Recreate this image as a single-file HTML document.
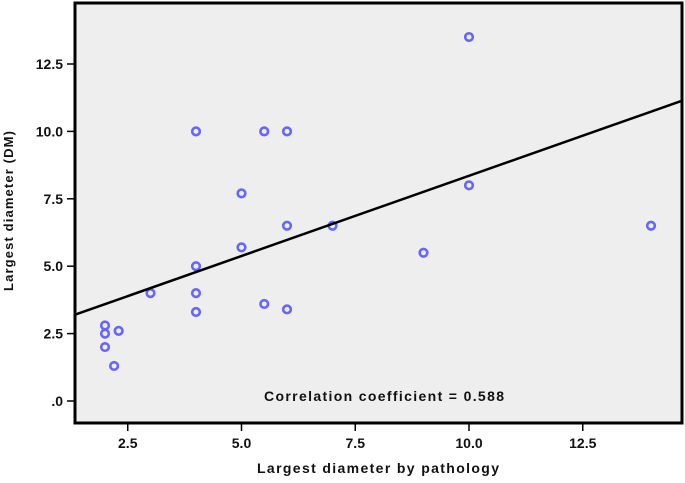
<!DOCTYPE html>
<html><head><meta charset="utf-8"><style>
body{margin:0;background:#fff;}
svg text{font-family:"Liberation Sans",Arial,sans-serif;font-weight:bold;fill:#111;}
</style></head><body>
<svg width="685" height="478">
<rect x="75" y="3" width="607" height="420" fill="#eeeeee" stroke="#000" stroke-width="3"/>
<g id="ticks"></g>
<g id="pts"></g>
<line id="fit" stroke="#000" stroke-width="2.5"/>
<text x="384" y="401" text-anchor="middle" font-size="14" textLength="240" lengthAdjust="spacing">Correlation coefficient = 0.588</text>
<text x="378" y="473" text-anchor="middle" font-size="14" textLength="242" lengthAdjust="spacing">Largest diameter by pathology</text>
<text transform="translate(13,211) rotate(-90)" text-anchor="middle" font-size="13" textLength="160" lengthAdjust="spacing">Largest diameter (DM)</text>
</svg>
<script>
const xs=[2,2,2,2.3,2.2,3,4,4,4,4,5,5,5.5,5.5,6,6,6,7,9,10,10,14];
const ys=[2.8,2.5,2.0,2.6,1.3,4,10,5,4,3.3,7.7,5.7,10,3.6,10,6.5,3.4,6.5,5.5,13.5,8,6.5];
const xTicks=[2.5,5.0,7.5,10.0,12.5];
const yTicks=[0,2.5,5.0,7.5,10.0,12.5];
const yTickLabels=[".0","2.5","5.0","7.5","10.0","12.5"];
const fitX=[1.34,14.7];
const fitY=[3.2,11.15];
const X=v=>14+v*45.5, Y=v=>401-v*26.96;
const NS="http://www.w3.org/2000/svg";
const tg=document.getElementById('ticks'), pg=document.getElementById('pts');
function mk(t,a,p){const e=document.createElementNS(NS,t);for(const k in a)e.setAttribute(k,a[k]);p.appendChild(e);return e;}
xTicks.forEach(v=>{
 const l=mk('line',{x1:X(v),x2:X(v),y1:424,y2:431,stroke:'#000','stroke-width':1.5},tg);
 
 
 const t=mk('text',{x:X(v),y:448,'text-anchor':'middle','font-size':14},tg);t.textContent=v.toFixed(1);
 
 
});
yTicks.forEach((v,i)=>{
 const l=mk('line',{x1:67,x2:74,y1:Y(v),y2:Y(v),stroke:'#000','stroke-width':1.5},tg);
 
 
 const t=mk('text',{x:63,y:Y(v)+5,'text-anchor':'end','font-size':14},tg);t.textContent=yTickLabels[i];
 
 
});
xs.forEach((x,i)=>{
 const c=mk('circle',{cx:X(x),cy:Y(ys[i]),r:3.8,fill:'none',stroke:'#6666ff','stroke-width':2.6},pg);
 
 
});
const f=document.getElementById('fit');
f.setAttribute('x1',X(fitX[0]));f.setAttribute('y1',Y(fitY[0]));
f.setAttribute('x2',X(fitX[1]));f.setAttribute('y2',Y(fitY[1]));
</script>
</body></html>
